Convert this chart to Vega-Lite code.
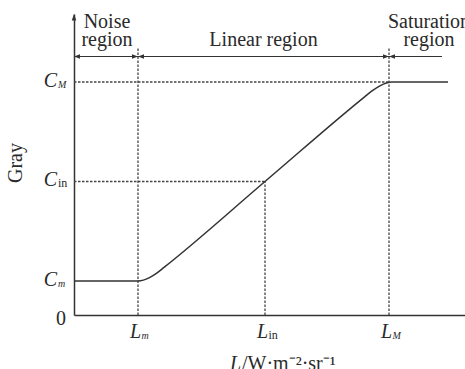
{
  "$schema": "https://vega.github.io/schema/vega-lite/v6.json",
  "width": 391,
  "height": 301,
  "autosize": "none",
  "padding": {"left": 74, "top": 14, "right": 0, "bottom": 54},
  "background": "white",
  "config": {
    "view": {"stroke": null},
    "text": {"font": "Liberation Serif", "color": "#2a2a2a"}
  },
  "encoding": {
    "x": {
      "field": "x", "type": "quantitative",
      "scale": {"domain": [0, 391], "nice": false, "zero": false},
      "axis": {"domainColor": "#333", "domainWidth": 1.5, "labels": false, "ticks": false, "grid": false, "title": null}
    },
    "y": {
      "field": "y", "type": "quantitative",
      "scale": {"domain": [0, 301], "nice": false, "zero": false},
      "axis": {
        "domainColor": "#333", "domainWidth": 1.5, "labels": false, "ticks": false, "grid": false,
        "title": "Gray", "titleFont": "Liberation Serif", "titleFontSize": 20, "titleFontWeight": "normal",
        "titleColor": "#2a2a2a", "titleX": -49, "titleY": 148.5, "titleAngle": -90,
        "titleBaseline": "bottom", "titleAlign": "center"
      }
    }
  },
  "layer": [
    {
      "data": {"values": [
        {"x": 0, "x2": 315, "y": 233, "y2": 233},
        {"x": 0, "x2": 191, "y": 133.5, "y2": 133.5},
        {"x": 64, "x2": 64, "y": 0, "y2": 267},
        {"x": 191, "x2": 191, "y": 0, "y2": 133.5},
        {"x": 315, "x2": 315, "y": 0, "y2": 267}
      ]},
      "mark": {"type": "rule", "color": "#444", "strokeWidth": 1.3, "strokeDash": [2.5, 1.5]},
      "encoding": {"x2": {"field": "x2"}, "y2": {"field": "y2"}}
    },
    {
      "data": {"values": [
        {"x": 0, "y": 34}, {"x": 64, "y": 34}, {"x": 69.4, "y": 34.85}, {"x": 75.5, "y": 37.4},
        {"x": 82.4, "y": 41.65}, {"x": 90, "y": 47.6}, {"x": 191, "y": 133.5}, {"x": 290, "y": 217.65},
        {"x": 298.4, "y": 224.4}, {"x": 305.9, "y": 229.2}, {"x": 312.4, "y": 232.0}, {"x": 318, "y": 233},
        {"x": 374, "y": 233}
      ]},
      "mark": {"type": "line", "color": "#333", "strokeWidth": 1.5, "interpolate": "monotone"}
    },
    {
      "data": {"values": [
        {"x": 0, "x2": 64, "y": 258.5, "y2": 258.5},
        {"x": 64, "x2": 315, "y": 258.5, "y2": 258.5},
        {"x": 315, "x2": 368, "y": 258.5, "y2": 258.5}
      ]},
      "mark": {"type": "rule", "color": "#333", "strokeWidth": 1.2},
      "encoding": {"x2": {"field": "x2"}, "y2": {"field": "y2"}}
    },
    {
      "data": {"values": [{"x": 64, "y": 258.5}, {"x": 315, "y": 258.5}]},
      "mark": {"type": "point", "shape": "M0,0L-2,-0.75L-2,0.75Z", "filled": true, "color": "#333", "opacity": 1, "size": 36, "strokeWidth": 0}
    },
    {
      "data": {"values": [{"x": 0, "y": 258.5}, {"x": 64, "y": 258.5}, {"x": 315, "y": 258.5}]},
      "mark": {"type": "point", "shape": "M0,0L2,-0.75L2,0.75Z", "filled": true, "color": "#333", "opacity": 1, "size": 36, "strokeWidth": 0}
    },
    {
      "data": {"values": [{"x": 0, "y": 301}]},
      "mark": {"type": "point", "shape": "M0,0L-0.75,2.2L0.75,2.2Z", "filled": true, "color": "#333", "opacity": 1, "size": 36, "strokeWidth": 0}
    },
    {
      "data": {"values": [
        {"x": 33, "y": 287, "t": "Noise"},
        {"x": 33, "y": 269, "t": "region"},
        {"x": 189.5, "y": 269, "t": "Linear region"},
        {"x": 355, "y": 287, "t": "Saturation"},
        {"x": 355, "y": 269, "t": "region"}
      ]},
      "mark": {"type": "text", "fontSize": 20, "align": "center", "baseline": "alphabetic"},
      "encoding": {"text": {"field": "t"}}
    },
    {
      "data": {"values": [{"x": 0, "y": 233, "t": "C"}, {"x": 0, "y": 133.5, "t": "C"}, {"x": 0, "y": 34, "t": "C"}]},
      "mark": {"type": "text", "fontSize": 20, "fontStyle": "italic", "align": "right", "baseline": "alphabetic", "dx": -17, "dy": 4.5},
      "encoding": {"text": {"field": "t"}}
    },
    {
      "data": {"values": [{"x": 0, "y": 233, "t": "M"}, {"x": 0, "y": 34, "t": "m"}]},
      "mark": {"type": "text", "fontSize": 10, "fontStyle": "italic", "align": "left", "baseline": "alphabetic", "dx": -16, "dy": 5.5},
      "encoding": {"text": {"field": "t"}}
    },
    {
      "data": {"values": [{"x": 0, "y": 133.5, "t": "in"}]},
      "mark": {"type": "text", "fontSize": 12, "align": "left", "baseline": "alphabetic", "dx": -16, "dy": 5},
      "encoding": {"text": {"field": "t"}}
    },
    {
      "data": {"values": [{"x": 64, "y": 0, "t": "L"}, {"x": 191, "y": 0, "t": "L"}, {"x": 315, "y": 0, "t": "L"}]},
      "mark": {"type": "text", "fontSize": 20, "fontStyle": "italic", "align": "right", "baseline": "alphabetic", "dx": 3, "dy": 23},
      "encoding": {"text": {"field": "t"}}
    },
    {
      "data": {"values": [{"x": 64, "y": 0, "t": "m"}, {"x": 315, "y": 0, "t": "M"}]},
      "mark": {"type": "text", "fontSize": 10, "fontStyle": "italic", "align": "left", "baseline": "alphabetic", "dx": 3.5, "dy": 24},
      "encoding": {"text": {"field": "t"}}
    },
    {
      "data": {"values": [{"x": 191, "y": 0, "t": "in"}]},
      "mark": {"type": "text", "fontSize": 12, "align": "left", "baseline": "alphabetic", "dx": 3.5, "dy": 24},
      "encoding": {"text": {"field": "t"}}
    },
    {
      "data": {"values": [{"x": 0, "y": 0, "t": "0"}]},
      "mark": {"type": "text", "fontSize": 20, "align": "right", "baseline": "alphabetic", "dx": -8, "dy": 10},
      "encoding": {"text": {"field": "t"}}
    },
    {
      "data": {"values": [{"x": 156, "y": 0, "t": "L"}]},
      "mark": {"type": "text", "fontSize": 20, "fontStyle": "italic", "align": "left", "baseline": "alphabetic", "dy": 55},
      "encoding": {"text": {"field": "t"}}
    },
    {
      "data": {"values": [{"x": 156, "y": 0, "t": "/W·m⁻²·sr⁻¹"}]},
      "mark": {"type": "text", "fontSize": 20, "align": "left", "baseline": "alphabetic", "dx": 12, "dy": 55},
      "encoding": {"text": {"field": "t"}}
    }
  ]
}
